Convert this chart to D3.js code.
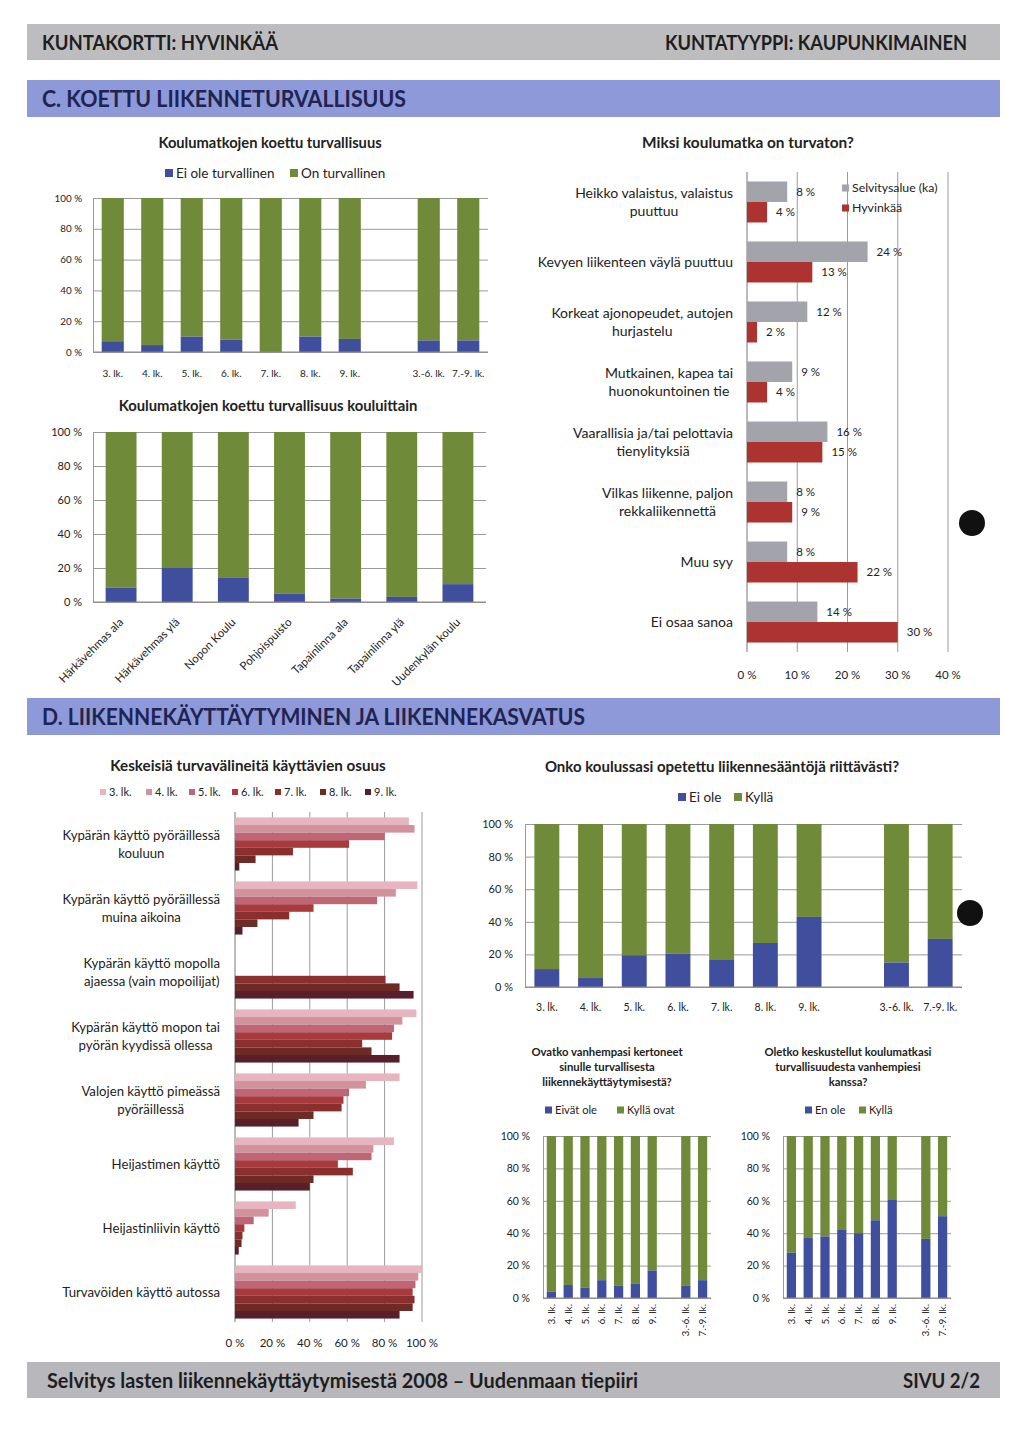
<!DOCTYPE html>
<html><head><meta charset="utf-8">
<script src="https://cdn.jsdelivr.net/npm/d3@7"></script>
<style>body{margin:0;background:#fff}svg{display:block}text{font-family:Lato,"Open Sans",sans-serif;fill:#222}</style>
</head><body><svg id="c" width="1024" height="1440"></svg>
<script>
// ---------- DATA ----------
const gradeCats = ["3. lk.","4. lk.","5. lk.","6. lk.","7. lk.","8. lk.","9. lk.","","3.-6. lk.","7.-9. lk."];
const safetyUnsafe = [7,4.5,10,8,0,10,8.5,null,7.5,7.5];

const schoolCats = ["Härkävehmas ala","Härkävehmas ylä","Nopon Koulu","Pohjoispuisto","Tapainlinna ala","Tapainlinna ylä","Uudenkylän koulu"];
const schoolUnsafe = [8.5,20,14.5,5,2,3,10.5];

const reasonCats = [["Heikko valaistus, valaistus","puuttuu"],["Kevyen liikenteen väylä puuttuu"],["Korkeat ajonopeudet, autojen","hurjastelu"],["Mutkainen, kapea tai","huonokuntoinen tie"],["Vaarallisia ja/tai pelottavia","tienylityksiä"],["Vilkas liikenne, paljon","rekkaliikennettä"],["Muu syy"],["Ei osaa sanoa"]];
const reasonRegion = [8,24,12,9,16,8,8,14];
const reasonHyvinkaa = [4,13,2,4,15,9,22,30];
const reasonTicks = [0,10,20,30,40];

const equipCats = [["Kypärän käyttö pyöräillessä","kouluun"],["Kypärän käyttö pyöräillessä","muina aikoina"],["Kypärän käyttö mopolla","ajaessa (vain mopoilijat)"],["Kypärän käyttö mopon tai","pyörän kyydissä ollessa"],["Valojen käyttö pimeässä","pyöräillessä"],["Heijastimen käyttö"],["Heijastinliivin käyttö"],["Turvavöiden käyttö autossa"]];
const equipGrades = ["3. lk.","4. lk.","5. lk.","6. lk.","7. lk.","8. lk.","9. lk."];
const equipLk3 = [93,97.5,null,97,88,85,32.5,100];
const equipLk4 = [96,86,null,89.5,70,74,18,98];
const equipLk5 = [80,76,null,85,61,73,10,96.5];
const equipLk6 = [61,42,null,84,58,55,5,95];
const equipLk7 = [31,29,80.5,68,57,63,4,96];
const equipLk8 = [11,12,88,73,42,42,3.5,95];
const equipLk9 = [2.3,4,95.5,88,34,40,2,88];
const equipTicks = [0,20,40,60,80,100];

const teachNo = [11,5.5,19.5,20.5,17,27,43,null,15,29.5];
const parentsNo = [4,8,6.5,11,7.5,9,17,null,7.5,11];
const talkNo = [28,37,38,42,40,48,60.5,null,36.5,50.5];
const pctTicks = [0,20,40,60,80,100];

// ---------- STYLE ----------
const BLUE="#3f4e9d", GREEN="#6f8b3a", GRAYBAR="#a3a3ab", RED="#ad3330";
const GRADE_COLORS=["#e7b5bf","#d1919d","#bf6676","#a83a3c","#8a2f2e","#6e2b25","#561f2b"];
const GRID="#9a9a9a";

const svg=d3.select("#c");
svg.append("rect").attr("width",1024).attr("height",1440).attr("fill","#fff");

// ---------- BANNERS ----------
function banner(y,h,fill){svg.append("rect").attr("x",27).attr("y",y).attr("width",973).attr("height",h).attr("fill",fill);}
function btext(t,x,y,size,len,anchor,color){
  svg.append("text").attr("x",x).attr("y",y).attr("text-anchor",anchor||"start")
    .attr("font-size",size).attr("font-weight","bold").attr("textLength",len).attr("lengthAdjust","spacingAndGlyphs")
    .style("fill",color).text(t);
}
banner(24,36,"#bdbdbf");
btext("KUNTAKORTTI: HYVINKÄÄ",42,49.5,20,236,"start","#1e1e1e");
btext("KUNTATYYPPI: KAUPUNKIMAINEN",967,49.5,20,302,"end","#1e1e1e");
banner(80,37,"#8d99d8");
btext("C. KOETTU LIIKENNETURVALLISUUS",42,107,23,364,"start","#1f2452");
banner(698,37,"#8d99d8");
btext("D. LIIKENNEKÄYTTÄYTYMINEN JA LIIKENNEKASVATUS",42,725,23,543,"start","#1f2452");
banner(1362,36,"#b8b8bc");
btext("Selvitys lasten liikennekäyttäytymisestä 2008 – Uudenmaan tiepiiri",47,1388,21,591,"start","#1e1e1e");
btext("SIVU 2/2",980,1388,21,77,"end","#1e1e1e");

// ---------- HELPERS ----------
function title(lines,cx,y,size,lh){
  lines.forEach((l,i)=>svg.append("text").attr("x",cx).attr("y",y+i*lh).attr("text-anchor","middle")
    .attr("font-size",size).attr("font-weight","bold").text(l));
}
function legend(items,y,size){
  items.forEach(it=>{
    svg.append("rect").attr("x",it.x).attr("y",y-it.s/2).attr("width",it.s).attr("height",it.s).attr("fill",it.color);
    svg.append("text").attr("x",it.x+it.s+3).attr("y",y).attr("dy","0.35em").attr("font-size",size).text(it.label);
  });
}
function stacked(o){
  const g=svg.append("g");
  const idx=o.cats.map((c,i)=>i);
  const x=d3.scaleBand().domain(idx).range([o.x0,o.x1]).paddingInner(o.pad).paddingOuter(o.pad/2);
  const y=d3.scaleLinear().domain([0,100]).range([o.yb,o.yt]);
  const ax=g.append("g").attr("transform",`translate(${o.x0},0)`)
    .call(d3.axisLeft(y).tickValues(pctTicks).tickFormat(d=>d+" %").tickSize(-(o.x1-o.x0)).tickSizeOuter(0).tickPadding(o.tp));
  ax.select(".domain").attr("stroke",GRID);
  ax.selectAll(".tick line").attr("stroke",GRID);
  ax.selectAll(".tick text").attr("font-size",o.ts).style("font-family","Lato").style("fill","#222");
  idx.forEach(i=>{
    const v=o.no[i]; if(v===null) return;
    g.append("rect").attr("x",x(i)).attr("width",x.bandwidth()).attr("y",y(100)).attr("height",y(v)-y(100)).attr("fill",GREEN);
    g.append("rect").attr("x",x(i)).attr("width",x.bandwidth()).attr("y",y(v)).attr("height",y(0)-y(v)).attr("fill",BLUE);
  });
  g.append("line").attr("x1",o.x0).attr("x2",o.x1).attr("y1",y(0)).attr("y2",y(0)).attr("stroke","#888");
  idx.forEach(i=>{
    const c=o.cats[i]; if(!c) return;
    const cx=x(i)+x.bandwidth()/2;
    const t=g.append("text").attr("font-size",o.ls).text(c);
    if(o.mode==="h") t.attr("x",cx).attr("y",o.ly).attr("text-anchor","middle");
    else if(o.mode==="r90") t.attr("transform",`translate(${cx+3.5},${o.ly}) rotate(-90)`).attr("text-anchor","end");
    else t.attr("transform",`translate(${cx+3},${o.ly}) rotate(-45)`).attr("text-anchor","end");
  });
}
function catLabel(lines,rightX,cy,size,lh){
  const g=svg.append("g");
  const ts=lines.map(l=>g.append("text").attr("font-size",size).attr("text-anchor","middle").text(l));
  const w=d3.max(ts,t=>t.node().getComputedTextLength());
  const n=lines.length;
  ts.forEach((t,i)=>t.attr("x",rightX-w/2).attr("y",cy+(i-(n-1)/2)*lh).attr("dy","0.35em"));
}

// ---------- CHART 1 ----------
title(["Koulumatkojen koettu turvallisuus"],270,148,14.7,0);
legend([{x:165,s:8,color:BLUE,label:"Ei ole turvallinen"},{x:290,s:8,color:GREEN,label:"On turvallinen"}],173,13.5);
stacked({cats:gradeCats,no:safetyUnsafe,x0:93,x1:488,yt:198,yb:352,pad:0.44,tp:11,ts:9.8,mode:"h",ls:10,ly:377});

// ---------- CHART 2 ----------
title(["Koulumatkojen koettu turvallisuus  kouluittain"],268,411,14.8,0);
stacked({cats:schoolCats,no:schoolUnsafe,x0:93,x1:486,yt:432,yb:602,pad:0.45,tp:11,ts:11,mode:"r45",ls:11.5,ly:623});

// ---------- CHART 3 ----------
(function(){
  const g=svg.append("g");
  title(["Miksi koulumatka on turvaton?"],748,148,15.4,0);
  const x=d3.scaleLinear().domain([0,40]).range([747,948]);
  const y=d3.scaleBand().domain(d3.range(reasonCats.length)).range([172,652]).paddingInner(0.317).paddingOuter(0.158);
  const sub=d3.scaleBand().domain([0,1]).range([0,y.bandwidth()]);
  reasonTicks.forEach(t=>{
    g.append("line").attr("x1",x(t)).attr("x2",x(t)).attr("y1",172).attr("y2",652)
     .attr("stroke",t===0?"#777":GRID);
    g.append("text").attr("x",x(t)).attr("y",675).attr("dy","0.35em").attr("text-anchor","middle").attr("font-size",11.5).text(t+" %");
  });
  reasonCats.forEach((c,i)=>{
    [[reasonRegion,GRAYBAR],[reasonHyvinkaa,RED]].forEach(([arr,col],k)=>{
      const yy=y(i)+sub(k);
      g.append("rect").attr("x",x(0)).attr("y",yy).attr("width",x(arr[i])-x(0)).attr("height",sub.bandwidth()).attr("fill",col);
      g.append("text").attr("x",x(arr[i])+9).attr("y",yy+sub.bandwidth()/2).attr("dy","0.35em").attr("font-size",11.5).text(arr[i]+" %");
    });
    catLabel(c,733,y(i)+y.bandwidth()/2,14,18);
  });
  legend([{x:842,s:7,color:GRAYBAR,label:"Selvitysalue (ka)"}],188,12.3);
  legend([{x:842,s:7,color:RED,label:"Hyvinkää"}],208,12.3);
})();

// ---------- CHART 4 ----------
(function(){
  const g=svg.append("g");
  title(["Keskeisiä turvavälineitä käyttävien osuus"],248,771,15.2,0);
  legend(equipGrades.map((gr,i)=>({x:[100,146,189,232,275,320,365][i],s:6,color:GRADE_COLORS[i],label:gr})),792,11);
  const series=[equipLk3,equipLk4,equipLk5,equipLk6,equipLk7,equipLk8,equipLk9];
  const x=d3.scaleLinear().domain([0,100]).range([235,422]);
  const y=d3.scaleBand().domain(d3.range(equipCats.length)).range([812,1324]).paddingInner(0.17).paddingOuter(0.085);
  const sub=d3.scaleBand().domain(d3.range(7)).range([0,y.bandwidth()]);
  equipTicks.forEach(t=>{
    g.append("line").attr("x1",x(t)).attr("x2",x(t)).attr("y1",812).attr("y2",1322).attr("stroke",t===0?"#777":GRID);
    g.append("text").attr("x",x(t)).attr("y",1343).attr("dy","0.35em").attr("text-anchor","middle").attr("font-size",11.5).text(t+" %");
  });
  equipCats.forEach((c,i)=>{
    series.forEach((arr,k)=>{
      const v=arr[i]; if(v===null) return;
      g.append("rect").attr("x",x(0)).attr("y",y(i)+sub(k)).attr("width",x(v)-x(0)).attr("height",sub.bandwidth()).attr("fill",GRADE_COLORS[k]);
    });
    catLabel(c,220,y(i)+y.bandwidth()/2,13.2,18);
  });
})();

// ---------- CHART 5 ----------
title(["Onko koulussasi opetettu liikennesääntöjä riittävästi?"],722,772,15,0);
legend([{x:678,s:8,color:BLUE,label:"Ei ole"},{x:734,s:8,color:GREEN,label:"Kyllä"}],797,13.5);
stacked({cats:gradeCats,no:teachNo,x0:525,x1:962,yt:824,yb:987,pad:0.43,tp:12,ts:11,mode:"h",ls:10.5,ly:1011});

// ---------- CHART 6 ----------
title(["Ovatko vanhempasi kertoneet","sinulle turvallisesta","liikennekäyttäytymisestä?"],607,1056,11.3,15);
legend([{x:545,s:7,color:BLUE,label:"Eivät ole"},{x:617,s:7,color:GREEN,label:"Kyllä ovat"}],1110,11.2);
stacked({cats:gradeCats,no:parentsNo,x0:543,x1:711,yt:1136,yb:1298,pad:0.45,tp:13,ts:10.5,mode:"r90",ls:10,ly:1304});

// ---------- CHART 7 ----------
title(["Oletko keskustellut koulumatkasi","turvallisuudesta vanhempiesi","kanssa?"],848,1056,11.3,15);
legend([{x:805,s:7,color:BLUE,label:"En ole"},{x:859,s:7,color:GREEN,label:"Kyllä"}],1110,11.2);
stacked({cats:gradeCats,no:talkNo,x0:783,x1:951,yt:1136,yb:1298,pad:0.45,tp:13,ts:10.5,mode:"r90",ls:10,ly:1304});

// scan punch holes
svg.append("circle").attr("cx",972).attr("cy",523).attr("r",13).attr("fill","#111");
svg.append("circle").attr("cx",970).attr("cy",913).attr("r",13).attr("fill","#111");
</script></body></html>
